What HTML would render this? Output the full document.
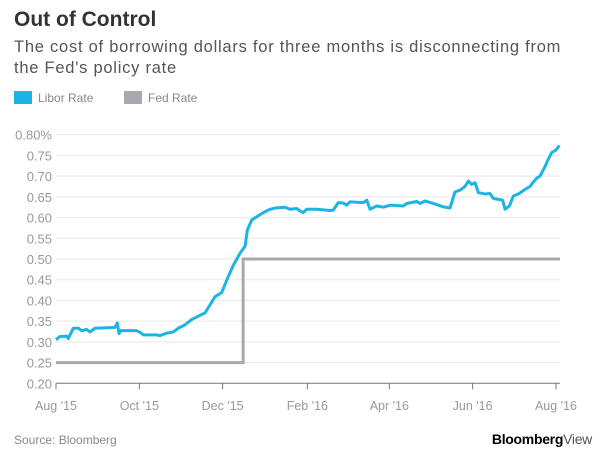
<!DOCTYPE html>
<html><head><meta charset="utf-8"><style>
body{margin:0;background:#fff;font-family:"Liberation Sans",sans-serif;}
#wrap{position:relative;width:608px;height:457px;overflow:hidden;}
.t{position:absolute;white-space:nowrap;}
</style></head><body>
<div id="wrap">
<div class="t" style="left:14px;top:8px;font-size:21px;font-weight:bold;color:#333;">Out of Control</div>
<div class="t" style="left:14px;top:37px;font-size:16.5px;letter-spacing:0.75px;line-height:21px;color:#555;">The cost of borrowing dollars for three months is disconnecting from<br>the Fed's policy rate</div>
<div class="t" style="left:14px;top:91px;font-size:12px;color:#888;"><span style="display:inline-block;width:18px;height:13px;background:#1bb4e3;vertical-align:-2px;margin-right:6px"></span>Libor Rate</div>
<div class="t" style="left:124px;top:91px;font-size:12px;color:#888;"><span style="display:inline-block;width:18px;height:13px;background:#a8a8b0;vertical-align:-2px;margin-right:6px"></span>Fed Rate</div>
<svg id="chart" width="608" height="457" style="position:absolute;left:0;top:0"></svg>
<div class="t" style="left:14px;top:433px;font-size:12px;color:#888;">Source: Bloomberg</div>
<div class="t" style="right:16px;top:431px;font-size:14px;font-weight:bold;color:#000;letter-spacing:-0.3px">Bloomberg<span style="color:#555;font-weight:normal">View</span></div>
</div>
<script>
const yTicks=[0.20,0.25,0.30,0.35,0.40,0.45,0.50,0.55,0.60,0.65,0.70,0.75,0.80];
const yTickLabels=["0.20","0.25","0.30","0.35","0.40","0.45","0.50","0.55","0.60","0.65","0.70","0.75","0.80%"];
const xTickDays=[0,61,122,184,244,305,366];
const xTickLabels=["Aug '15","Oct '15","Dec '15","Feb '16","Apr '16","Jun '16","Aug '16"];
const liborDays=[0,2.9,7.8,9,12.7,16.4,18.8,22.4,24.9,28.5,37,43.2,44.9,46.1,47.3,59,61.5,63.9,73.7,76.1,81,85.9,89.6,94.4,99.3,104.2,109.1,112.7,116.4,121.3,125,129.8,134.7,138.4,140.1,143.3,146.9,151.8,156.7,160.3,167.7,171.3,176.2,178.6,181,183.5,190.8,200.6,203,206.7,210.4,212.8,215.3,225,227.5,229.9,234.8,239.7,244.5,254.3,256.7,264,266.5,270.1,276.2,283.5,288.4,292.1,295.8,299.4,301.9,304.3,306.8,309.2,314.1,317.7,320.2,323.8,327,328.7,331.9,334.8,338.5,343.4,347,349,351.9,354.3,358,360.4,362.9,366,368.5];
const liborValues=[0.305,0.313,0.314,0.308,0.333,0.333,0.327,0.330,0.324,0.333,0.334,0.335,0.346,0.320,0.327,0.327,0.323,0.317,0.317,0.315,0.321,0.324,0.333,0.341,0.354,0.362,0.370,0.389,0.409,0.419,0.449,0.485,0.514,0.531,0.570,0.594,0.602,0.612,0.620,0.623,0.625,0.620,0.622,0.616,0.612,0.620,0.620,0.617,0.618,0.636,0.635,0.630,0.638,0.636,0.642,0.620,0.628,0.625,0.630,0.628,0.634,0.639,0.634,0.640,0.634,0.626,0.623,0.662,0.666,0.675,0.688,0.680,0.684,0.660,0.657,0.658,0.646,0.644,0.642,0.620,0.628,0.652,0.657,0.668,0.675,0.684,0.695,0.700,0.723,0.741,0.757,0.763,0.774];
const fedDays=[0,137,137,369];
const fedValues=[0.25,0.25,0.50,0.50];
const ns="http://www.w3.org/2000/svg";
const svg=document.getElementById('chart');
const X0=56,PX=1.366,Y0=383.3,Y1=134.7;
function xs(d){return X0+d*PX;}
function ys(v){return Y0-(v-0.20)/0.60*(Y0-Y1);}
function mk(tag,attrs){const e=document.createElementNS(ns,tag);for(const k in attrs)e.setAttribute(k,attrs[k]);svg.appendChild(e);return e;}
yTicks.forEach((v,i)=>{
  if(i>0){const g=mk('line',{x1:X0,x2:560,y1:ys(v),y2:ys(v),stroke:'#e8e8e8','stroke-width':1});
  
  }
  const t=mk('text',{x:52,y:ys(v)+5,'text-anchor':'end','font-size':13,fill:'#999','font-family':'Liberation Sans, sans-serif'});
  
  
  t.textContent=yTickLabels[i];
});
const ax=mk('line',{x1:X0,x2:560,y1:Y0,y2:Y0,stroke:'#777','stroke-width':1});


xTickDays.forEach((d,i)=>{
  const tk=mk('line',{x1:xs(d),x2:xs(d),y1:Y0,y2:Y0+6,stroke:'#777','stroke-width':1});
  
  
  const t=mk('text',{x:xs(d),y:410,'text-anchor':'middle','font-size':12.5,fill:'#999','font-family':'Liberation Sans, sans-serif'});
  
  
  t.textContent=xTickLabels[i];
});
const fp=mk('polyline',{points:fedDays.map((d,i)=>xs(d)+','+ys(fedValues[i])).join(' '),fill:'none',stroke:'#a8a8b0','stroke-width':3});


const lp=mk('polyline',{points:liborDays.map((d,i)=>xs(d)+','+ys(liborValues[i])).join(' '),fill:'none',stroke:'#1bb4e3','stroke-width':3,'stroke-linejoin':'round'});


</script>
</body></html>
